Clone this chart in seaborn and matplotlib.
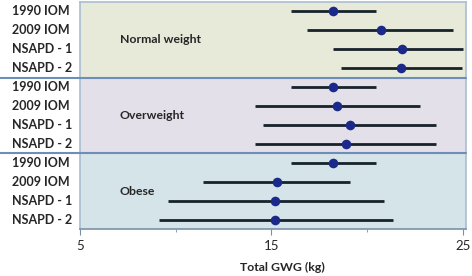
import pandas as pd
import seaborn as sns
import matplotlib.pyplot as plt

# rows from top to bottom
groups = ['Normal weight', 'Overweight', 'Obese']
sources = ['1990 IOM', '2009 IOM', 'NSAPD - 1', 'NSAPD - 2']

gwg_mean = [18.2, 20.7, 21.8, 21.75,
            18.2, 18.4, 19.1, 18.9,
            18.2, 15.3, 15.2, 15.2]
gwg_low = [16.0, 16.85, 18.2, 18.65,
           16.0, 14.15, 14.55, 14.15,
           16.0, 11.4, 9.6, 9.15]
gwg_high = [20.45, 24.5, 25.0, 24.95,
            20.45, 22.75, 23.6, 23.6,
            20.45, 19.1, 20.9, 21.35]

group_colors = ['#E8EAD9', '#E3E0E9', '#D5E4E8']

df = pd.DataFrame({'group': [g for g in groups for _ in sources],
                   'source': sources * len(groups),
                   'mean': gwg_mean,
                   'low': gwg_low,
                   'high': gwg_high})
df['row'] = range(len(df))

sns.set_style('white')
plt.rcParams['font.family'] = ['Lato', 'DejaVu Sans']

fig = plt.figure(figsize=(4.72, 2.76), dpi=100)
ax = fig.add_axes([80 / 472, 47 / 276, 386 / 472, 227 / 276])

# coloured group panels
for i, col in enumerate(group_colors):
    ax.axhspan(i * 4 - 0.5, i * 4 + 3.5, color=col, zorder=0, lw=0)

# ranges and means
ax.hlines(df['row'], df['low'], df['high'], color='#17222A', lw=2, zorder=2)
sns.scatterplot(data=df, x='mean', y='row', ax=ax, color='#1B2A8A',
                s=48, edgecolor='#1B2A8A', linewidth=0, zorder=3, legend=False)

ax.set_xlim(5, 25.16)
ax.set_ylim(11.5, -0.5)
ax.set_xticks([5, 15, 25])
ax.set_xticks([10, 20], minor=True)
ax.set_yticks([])
ax.set_xlabel('')
ax.set_ylabel('')
ax.tick_params(axis='x', which='both', direction='out', bottom=True,
               color='#7A90A8', labelsize=9.5, pad=4)
ax.tick_params(axis='x', which='major', length=4)
ax.tick_params(axis='x', which='minor', length=2)

for side in ['top', 'right', 'left']:
    ax.spines[side].set_color('#A9BDD2')
    ax.spines[side].set_linewidth(1.2)
ax.spines['bottom'].set_color('#7A90A8')
ax.spines['bottom'].set_linewidth(1.2)

# separator lines into the label area
for b in [3.5, 7.5]:
    ax.axhline(b, xmin=-80 / 386, xmax=1, color='#6E8EBA', lw=1.5,
               clip_on=False, zorder=4)

# row labels and group names
for r, s in zip(df['row'], df['source']):
    ax.text(-68 / 386, r, s, transform=ax.get_yaxis_transform(),
            ha='left', va='center', fontsize=9, fontweight='bold')
for i, g in enumerate(groups):
    ax.text(40 / 386, i * 4 + 1.5, g, transform=ax.get_yaxis_transform(),
            ha='left', va='center', fontsize=8.8, fontweight='bold')

fig.text(282 / 472, 9 / 276, 'Total GWG (kg)', ha='center', va='center',
         fontsize=8.8, fontweight='bold')

fig.savefig('out.png', dpi=100)
